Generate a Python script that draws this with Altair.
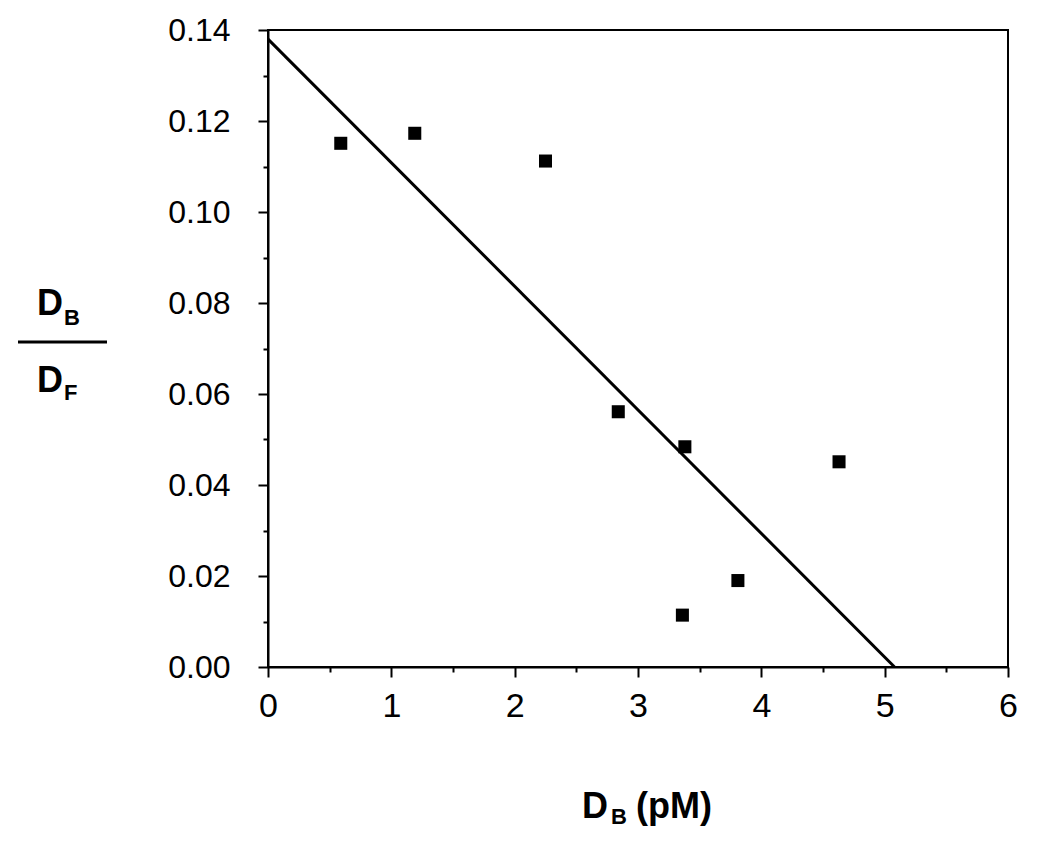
import altair as alt
import pandas as pd

# Scatter data (D_B in pM, D_B/D_F)
db_values = [0.59, 1.19, 2.25, 2.84, 3.38, 4.63, 3.81, 3.36]
ratio_values = [0.1151, 0.1173, 0.1112, 0.0561, 0.0484, 0.0451, 0.0190, 0.0114]

# Fitted line endpoints
fit_x = [0.0, 5.08]
fit_y = [0.138, 0.0]

# Tick values
x_ticks = [i * 0.5 for i in range(13)]
y_ticks = [i / 100 for i in range(15)]

# Title pieces
x_title_main = "D"
x_title_sub = "B"
x_title_rest = "(pM)"
y_num_main = "D"
y_num_sub = "B"
y_den_main = "D"
y_den_sub = "F"

FONT = "Liberation Sans"

pts = pd.DataFrame({"x": db_values, "y": ratio_values})
fit = pd.DataFrame({"x": fit_x, "y": fit_y})

xscale = alt.Scale(domain=[0, 6], nice=False, zero=False)
yscale = alt.Scale(domain=[0, 0.14], nice=False, zero=False)

xaxis = alt.Axis(
    values=x_ticks,
    title=None,
    grid=False,
    labelExpr="datum.value % 1 == 0 ? format(datum.value, 'd') : ''",
    tickSize={"condition": {"test": "datum.value % 1 != 0", "value": 5}, "value": 10},
    labelFontSize=34,
    labelPadding=12,
    labelFont=FONT,
    labelColor="black",
    domainColor="black",
    domainWidth=2,
    tickColor="black",
    tickWidth=2,
    labelFlush=False,
    labelOverlap=False,
)
yaxis = alt.Axis(
    values=y_ticks,
    title=None,
    grid=False,
    labelExpr="round(datum.value * 100) % 2 == 0 ? format(datum.value, '.2f') : ''",
    tickSize={"condition": {"test": "round(datum.value * 100) % 2 != 0", "value": 5}, "value": 10},
    labelFontSize=32,
    labelPadding=28,
    labelFont=FONT,
    labelColor="black",
    domainColor="black",
    domainWidth=2,
    tickColor="black",
    tickWidth=2,
    labelFlush=False,
    labelOverlap=False,
)

line = alt.Chart(fit).mark_line(color="black", strokeWidth=3).encode(
    x=alt.X("x:Q", scale=xscale, axis=xaxis),
    y=alt.Y("y:Q", scale=yscale, axis=yaxis),
)

points = alt.Chart(pts).mark_square(size=170, color="black", opacity=1).encode(
    x=alt.X("x:Q", scale=xscale),
    y=alt.Y("y:Q", scale=yscale),
)


def label(text, px, py, size):
    return alt.Chart(pd.DataFrame({"t": [text]})).mark_text(
        align="left", baseline="alphabetic", font=FONT, fontWeight="bold",
        fontSize=size, color="black"
    ).encode(text="t:N", x=alt.value(px), y=alt.value(py))


frac_rule = alt.Chart(pd.DataFrame({"t": [0]})).mark_rule(
    color="black", strokeWidth=3
).encode(x=alt.value(-250), x2=alt.value(-161), y=alt.value(312))

chart = alt.layer(
    line,
    points,
    label(x_title_main, 314, 788, 36),
    label(x_title_sub, 343, 794, 22),
    label(x_title_rest, 368, 788, 36),
    label(y_num_main, -231, 285, 36),
    label(y_num_sub, -204, 295, 22),
    frac_rule,
    label(y_den_main, -231, 362, 36),
    label(y_den_sub, -204, 370, 22),
).properties(
    width=740,
    height=637,
    autosize=alt.AutoSizeParams(type="none"),
    padding={"left": 260, "top": 22, "right": 34, "bottom": 170},
).configure_view(stroke="black", strokeWidth=2)

chart.save("out.html", embed_options={"renderer": "svg", "actions": False})
